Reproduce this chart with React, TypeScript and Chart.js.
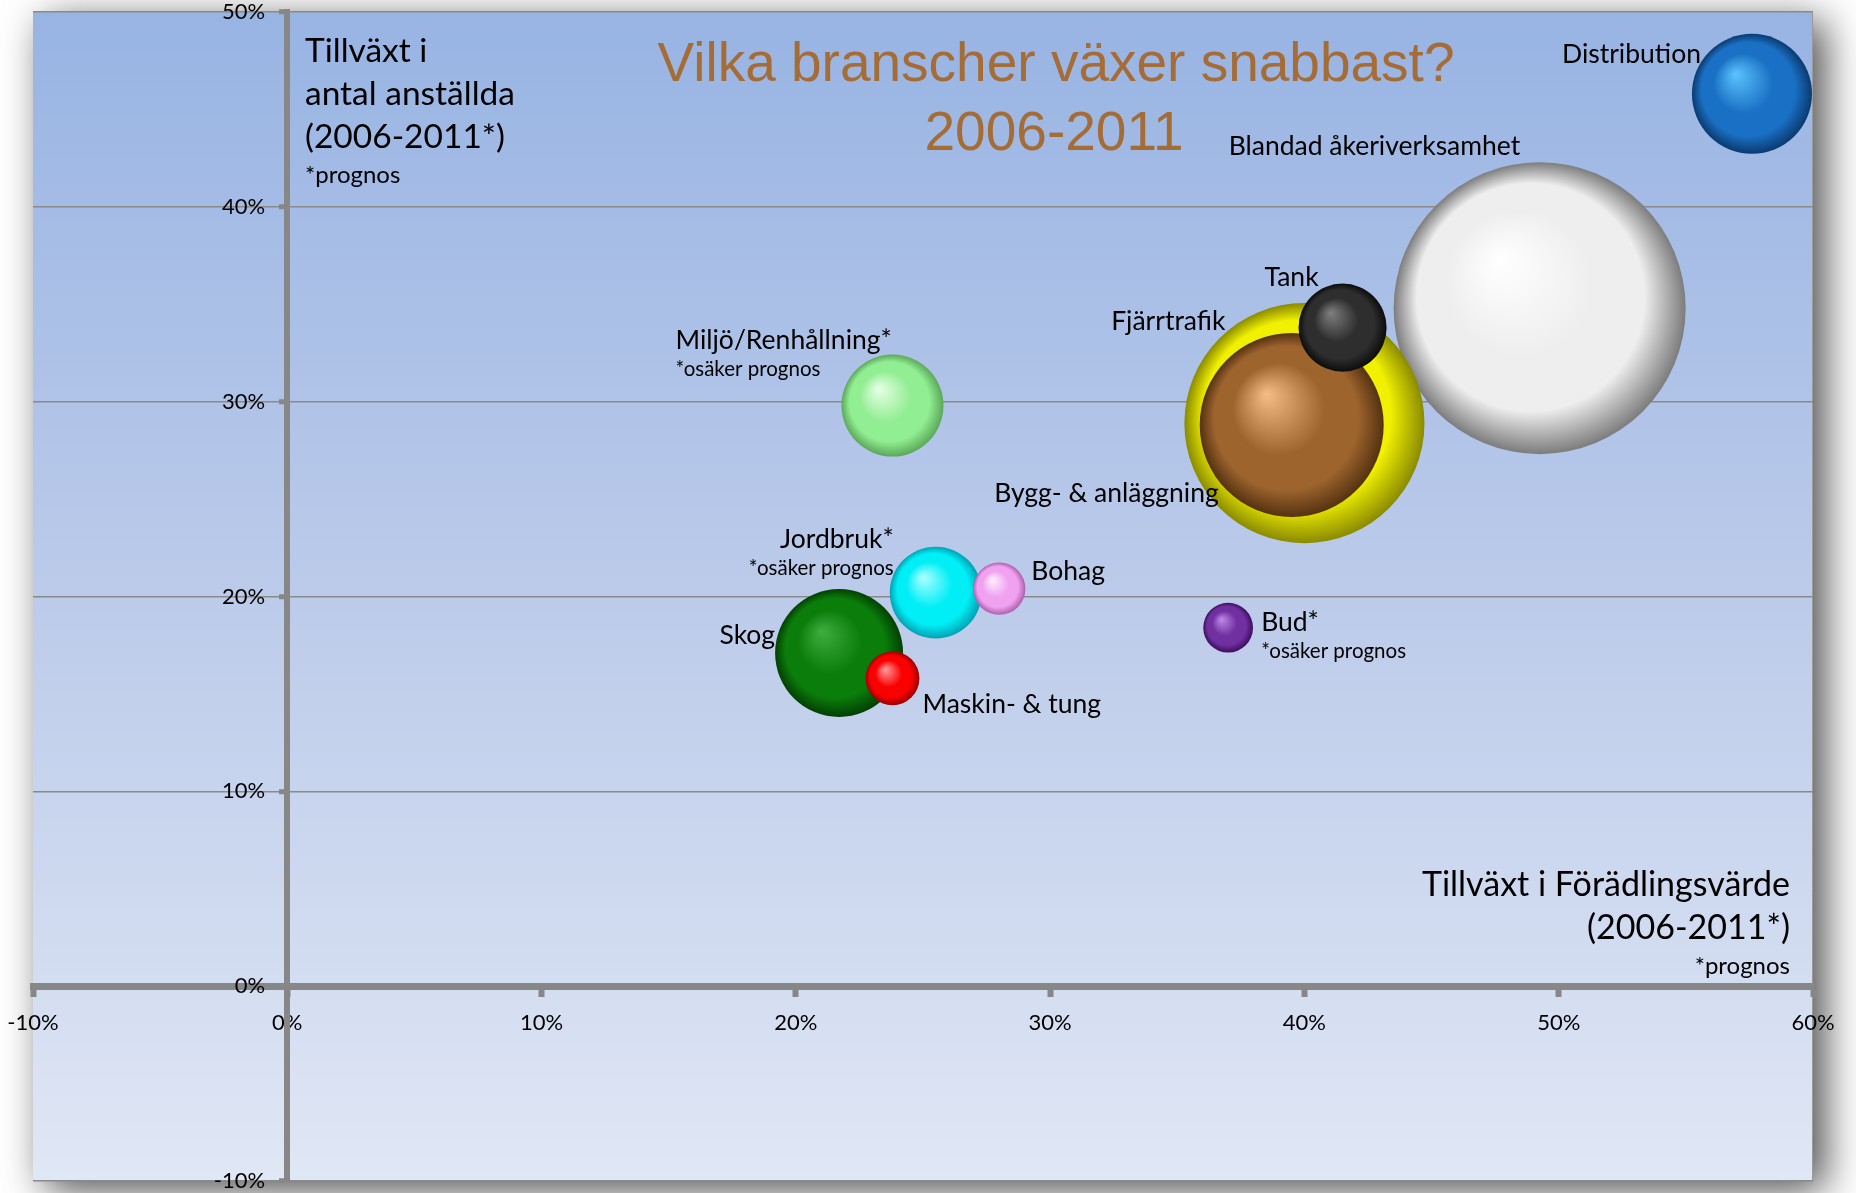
import React, { useEffect, useRef } from 'react';
import { Chart, registerables } from 'chart.js';

Chart.register(...registerables);

// ---------- DATA ----------
// Sorted by bubble size (largest first) so smaller bubbles are drawn on top.
const branches = [
  'Blandad åkeriverksamhet',
  'Fjärrtrafik',
  'Bygg- & anläggning',
  'Skog',
  'Distribution',
  'Miljö/Renhållning*',
  'Jordbruk*',
  'Tank',
  'Maskin- & tung',
  'Bohag',
  'Bud*',
];
// Tillväxt i förädlingsvärde 2006-2011 (x)
const valueAddedGrowth = [0.4925, 0.4, 0.395, 0.217, 0.576, 0.238, 0.255, 0.415, 0.238, 0.28, 0.37];
// Tillväxt i antal anställda 2006-2011 (y)
const employeeGrowth = [0.348, 0.289, 0.288, 0.171, 0.458, 0.298, 0.202, 0.338, 0.158, 0.204, 0.184];
// Relative bubble size (area)
const bubbleSize = [100, 67.6, 39.7, 19.2, 16.9, 12.2, 9.9, 9.1, 3.4, 3.2, 2.9];
const footnotes = ['', '', '', '', '', '*osäker prognos', '*osäker prognos', '', '', '', '*osäker prognos'];

const xTickValues = [-0.1, 0, 0.1, 0.2, 0.3, 0.4, 0.5, 0.6];
const yTickValues = [-0.1, 0, 0.1, 0.2, 0.3, 0.4, 0.5];

const titleLines = ['Vilka branscher växer snabbast?', '2006-2011'];
const yTitleLines = ['Tillväxt i', 'antal anställda', '(2006-2011*)'];
const xTitleLines = ['Tillväxt i Förädlingsvärde', '(2006-2011*)'];
const prognosNote = '*prognos';

// ---------- STYLE ----------
const MAX_RADIUS = 146;
const FONT = 'Lato';
// [highlight, base, edge]
const bubbleColors: string[][] = [
  ['#ffffff', '#eeeeee', '#7c7c7c'],
  ['#ffff70', '#f0f000', '#8a8a00'],
  ['#f7bd86', '#9e642e', '#553210'],
  ['#3fae3f', '#0a7d0a', '#033f03'],
  ['#5cc4ff', '#1a70c4', '#0a3a70'],
  ['#e8ffe8', '#92ee92', '#5aa85a'],
  ['#b0ffff', '#00eef6', '#00a2b4'],
  ['#808080', '#2e2e2e', '#0c0c0c'],
  ['#ffa0a0', '#fa0000', '#9a0000'],
  ['#fff2ff', '#f0a2f0', '#ae5eae'],
  ['#c08ae8', '#7030a0', '#3c0e5e'],
];
// label anchor offsets (px) from bubble centre
const labelLayout: { dx: number; dy: number; align: CanvasTextAlign }[] = [
  { dx: -311, dy: -162, align: 'left' },
  { dx: -79, dy: -102, align: 'right' },
  { dx: -73, dy: 68, align: 'right' },
  { dx: -64, dy: -18, align: 'right' },
  { dx: -51, dy: -39, align: 'right' },
  { dx: -217, dy: -65, align: 'left' },
  { dx: -42, dy: -53, align: 'right' },
  { dx: -78, dy: -50, align: 'left' },
  { dx: 30, dy: 26, align: 'left' },
  { dx: 32, dy: -17, align: 'left' },
  { dx: 33, dy: -5, align: 'left' },
];

const pct = (v: number) => `${Math.round(v * 100)}%`;

const backgroundPlugin = {
  id: 'plotBackground',
  beforeDraw(chart: any) {
    const { ctx, chartArea: ca } = chart;
    if (!ca) return;
    ctx.save();
    ctx.shadowColor = 'rgba(0,0,0,0.7)';
    ctx.shadowBlur = 38;
    ctx.shadowOffsetX = 12;
    ctx.shadowOffsetY = 9;
    ctx.fillStyle = '#c0c8d8';
    ctx.fillRect(ca.left, ca.top, ca.right - ca.left, ca.bottom - ca.top);
    ctx.restore();
    const g = ctx.createLinearGradient(0, ca.top, 0, ca.bottom);
    g.addColorStop(0, '#98b4e3');
    g.addColorStop(0.5, '#bccbea');
    g.addColorStop(1, '#e0e7f5');
    ctx.save();
    ctx.fillStyle = g;
    ctx.fillRect(ca.left, ca.top, ca.right - ca.left, ca.bottom - ca.top);
    ctx.strokeStyle = '#9a9a9a';
    ctx.lineWidth = 1;
    ctx.beginPath();
    ctx.moveTo(ca.right - 0.5, ca.top);
    ctx.lineTo(ca.right - 0.5, ca.bottom);
    ctx.stroke();
    ctx.restore();
  },
};

const textPlugin = {
  id: 'annotations',
  afterDatasetsDraw(chart: any) {
    const { ctx, chartArea: ca } = chart;
    if (!ca) return;
    ctx.save();
    ctx.textBaseline = 'middle';
    // title
    ctx.fillStyle = '#a56c35';
    ctx.textAlign = 'center';
    ctx.font = `55px "Liberation Sans", Arial, sans-serif`;
    ctx.fillText(titleLines[0], ca.left + 1023, ca.top + 54);
    ctx.fillText(titleLines[1], ca.left + 1021, ca.top + 123);

    ctx.fillStyle = '#000';
    // y title (top-left)
    ctx.textAlign = 'left';
    ctx.font = `33.5px ${FONT}`;
    yTitleLines.forEach((t, i) => ctx.fillText(t, ca.left + 272, ca.top + 39 + i * 43));
    ctx.font = `24px ${FONT}`;
    ctx.fillText(prognosNote, ca.left + 272, ca.top + 163);

    // x title (bottom-right)
    ctx.textAlign = 'right';
    ctx.font = `34px ${FONT}`;
    xTitleLines.forEach((t, i) => ctx.fillText(t, ca.right - 23, ca.top + 873 + i * 43));
    ctx.font = `24px ${FONT}`;
    ctx.fillText(prognosNote, ca.right - 23, ca.top + 954);

    // bubble labels
    const meta = chart.getDatasetMeta(0);
    meta.data.forEach((el: any, i: number) => {
      const L = labelLayout[i];
      ctx.textAlign = L.align;
      ctx.font = `26.5px ${FONT}`;
      ctx.fillText(branches[i], el.x + L.dx, el.y + L.dy);
      if (footnotes[i]) {
        ctx.font = `20.5px ${FONT}`;
        ctx.fillText(footnotes[i], el.x + L.dx, el.y + L.dy + 29);
      }
    });
    ctx.restore();
  },
};

export default function App() {
  const ref = useRef<HTMLCanvasElement | null>(null);
  useEffect(() => {
    if (!ref.current) return;
    const data = branches.map((_, i) => ({
      x: valueAddedGrowth[i],
      y: employeeGrowth[i],
      r: MAX_RADIUS * Math.sqrt(bubbleSize[i] / 100),
    }));
    const chart = new Chart(ref.current, {
      type: 'bubble',
      data: {
        datasets: [
          {
            label: 'Branscher',
            data,
            borderWidth: 0,
            backgroundColor: (c: any) => {
              const i = c.dataIndex ?? 0;
              const cols = bubbleColors[i] || bubbleColors[0];
              const chart = c.chart;
              if (c.type !== 'data' || !chart.chartArea) return cols[1];
              const raw = c.raw;
              const px = chart.scales.x.getPixelForValue(raw.x);
              const py = chart.scales.y.getPixelForValue(raw.y);
              const r = raw.r;
              const g = chart.ctx.createRadialGradient(px - 0.28 * r, py - 0.34 * r, 0, px, py, r);
              g.addColorStop(0, cols[0]);
              g.addColorStop(0.5, cols[1]);
              g.addColorStop(0.78, cols[1]);
              g.addColorStop(1, cols[2]);
              return g;
            },
          },
        ],
      },
      options: {
        animation: false,
        responsive: true,
        maintainAspectRatio: false,
        events: [],
        layout: { autoPadding: false, padding: { left: 33, top: 12, right: 43, bottom: 12 } },
        plugins: { legend: { display: false }, tooltip: { enabled: false }, title: { display: false } },
        scales: {
          x: {
            type: 'linear',
            min: -0.1,
            max: 0.6,
            position: { y: 0 } as any,
            afterFit: (s: any) => {
              s.height = 0;
              s.paddingLeft = 0;
              s.paddingRight = 0;
            },
            afterBuildTicks: (s: any) => {
              s.ticks = xTickValues.map((v) => ({ value: v }));
            },
            grid: { drawOnChartArea: false, drawTicks: true, tickLength: 7, tickWidth: 6, tickColor: '#878787' },
            border: { display: true, color: '#878787', width: 7 },
            ticks: {
              padding: 17,
              color: '#000',
              font: { family: FONT, size: 22 },
              callback: (v: any) => pct(Number(v)),
              maxRotation: 0,
              autoSkip: false,
            },
          },
          y: {
            type: 'linear',
            min: -0.1,
            max: 0.5,
            position: { x: 0 } as any,
            afterFit: (s: any) => {
              s.width = 0;
              s.paddingTop = 0;
              s.paddingBottom = 0;
            },
            afterBuildTicks: (s: any) => {
              s.ticks = yTickValues.map((v) => ({ value: v }));
            },
            grid: { color: '#8a8a8a', lineWidth: 1.5, drawTicks: true, tickLength: 5, tickWidth: 5, tickColor: '#878787' },
            border: { display: true, color: '#878787', width: 6 },
            ticks: {
              padding: 20,
              color: '#000',
              font: { family: FONT, size: 22 },
              callback: (v: any) => pct(Number(v)) + '\u2003 ',
              autoSkip: false,
            },
          },
        },
      },
      plugins: [backgroundPlugin, textPlugin],
    } as any);
    return () => chart.destroy();
  }, []);
  return (
    <div style={{ position: 'fixed', left: 0, top: 0, width: 1856, height: 1193, background: '#fff' }}>
      <canvas ref={ref} />
    </div>
  );
}
